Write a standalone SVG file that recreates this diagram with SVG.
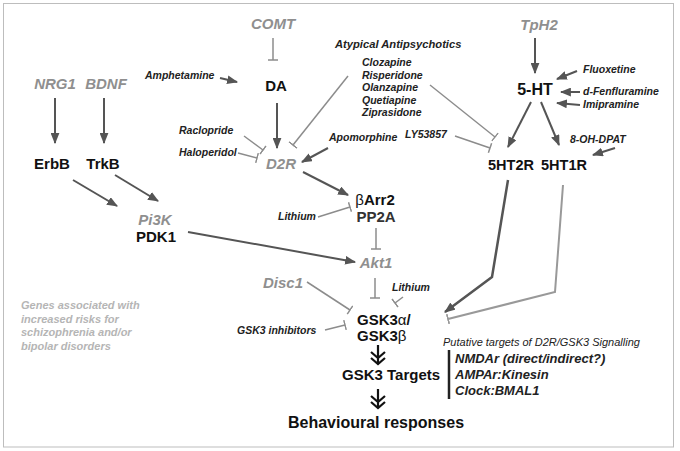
<svg xmlns="http://www.w3.org/2000/svg" width="680" height="451" viewBox="0 0 680 451">
<style>
text{font-family:"Liberation Sans",Arial,sans-serif;}
.node{font-size:15px;font-weight:bold;fill:#111;}
.gene{font-size:15px;font-weight:bold;font-style:italic;fill:#8f8f8f;}
.drug{font-size:10.5px;font-weight:bold;font-style:italic;fill:#222;}
.tgt{font-size:13px;font-weight:bold;font-style:italic;fill:#222;}
.note{font-size:11px;font-weight:bold;font-style:italic;fill:#b5b5b5;}
.act{fill:none;stroke:#555;stroke-width:2;marker-end:url(#arr);}
.inh{fill:none;stroke:#8c8c8c;stroke-width:1.5;marker-end:url(#tbar);}
.chev{fill:none;stroke:#111;stroke-width:2.2;}
.thin{font-weight:normal;}
</style>
<defs>
<marker id="arr" viewBox="0 0 10 8" markerWidth="11" markerHeight="9" refX="9" refY="4" orient="auto" markerUnits="userSpaceOnUse">
<path d="M0,0 L10,4 L0,8 z" fill="#555"/>
</marker>
<marker id="tbar" viewBox="-1 -6 2 12" markerWidth="2" markerHeight="12" refX="0" refY="0" orient="auto" markerUnits="userSpaceOnUse">
<path d="M0,-5 V5" stroke="#8c8c8c" stroke-width="1.5"/>
</marker>
<marker id="tbar2" viewBox="-1 -6 2 12" markerWidth="2" markerHeight="12" refX="0" refY="0" orient="auto" markerUnits="userSpaceOnUse">
<path d="M0,-5 V5" stroke="#999" stroke-width="1.8"/>
</marker>
<g id="dbl">
<path d="M0,0 V19 M-7,7 L0,13 L7,7 M-7,13 L0,19 L7,13" class="chev"/>
</g>
</defs>
<rect x="3.5" y="3.5" width="670" height="443.5" fill="#fff" stroke="#bdbdbd" stroke-width="1"/>

<g id="connectors">
<path class="act" d="M535,38 L535,73"/>
<path class="act" d="M220,78 L237,82"/>
<path class="act" d="M55,98 L55,143"/>
<path class="act" d="M104,98 L104,143"/>
<path class="act" d="M73,180 L117,206"/>
<path class="act" d="M115,175 L158,201"/>
<path class="act" d="M188,232 L355,262"/>
<path class="act" d="M277,103 L277,148"/>
<path class="act" d="M328,148 L302,162"/>
<path class="act" d="M303,172 L348,195"/>
<path class="act" d="M577,71 L557,79"/>
<path class="act" d="M580,92 L561,92"/>
<path class="act" d="M580,105 L557,103"/>
<path class="act" d="M531,102 L508,147"/>
<path class="act" d="M541,102 L559,145"/>
<path class="act" d="M615,148 L593,155"/>
<path class="act" style="stroke-width:2.5" d="M508,180 L492,277 L445,312"/>

<path class="inh" d="M273,38 L273,60"/>
<path class="inh" d="M244,136 L263,150"/>
<path class="inh" d="M238,153 L257,158"/>
<path class="inh" d="M348,76 L293,145"/>
<path class="inh" d="M430,85 L495,137"/>
<path class="inh" d="M455,136 L490,148"/>
<path class="inh" d="M318,217 L350,207"/>
<path class="inh" d="M376,228 L376,249"/>
<path class="inh" d="M375,278 L375,298"/>
<path class="inh" d="M403,297 L395,303"/>
<path class="inh" d="M307,282 L350,310"/>
<path class="inh" d="M325,330 L345,325"/>
<path class="inh" style="stroke:#999;stroke-width:2;marker-end:url(#tbar2)" d="M563,185 L555,292 L448,319"/>

<use href="#dbl" x="378" y="345"/>
<use href="#dbl" x="378" y="389"/>
<path d="M449,350 L449,399" stroke="#222" stroke-width="2.5"/>
</g>

<g id="COMT"><text class="gene" x="273" y="29" text-anchor="middle">COMT</text></g>
<g id="TpH2"><text class="gene" x="539" y="30" text-anchor="middle">TpH2</text></g>
<g id="NRG1"><text class="gene" x="55" y="89" text-anchor="middle">NRG1</text></g>
<g id="BDNF"><text class="gene" x="106" y="89" text-anchor="middle">BDNF</text></g>
<g id="ErbB"><text class="node" x="52" y="169" text-anchor="middle">ErbB</text></g>
<g id="TrkB"><text class="node" x="103" y="169" text-anchor="middle">TrkB</text></g>
<g id="Pi3K"><text class="gene" x="155" y="225" text-anchor="middle">Pi3K</text></g>
<g id="PDK1"><text class="node" x="156" y="242" text-anchor="middle">PDK1</text></g>
<g id="DA"><text class="node" x="276" y="91" text-anchor="middle">DA</text></g>
<g id="D2R"><text class="gene" x="281" y="169" text-anchor="middle">D2R</text></g>
<g id="bArr2"><text class="node" x="375" y="205" text-anchor="middle"><tspan class="thin">β</tspan>Arr2</text>
<text class="node" x="376" y="222" text-anchor="middle" style="fill:#333">PP2A</text></g>
<g id="Akt1"><text class="gene" x="376" y="268" text-anchor="middle">Akt1</text></g>
<g id="Disc1"><text class="gene" x="283" y="288" text-anchor="middle">Disc1</text></g>
<g id="GSK3"><text class="node" x="357" y="325">GSK3<tspan class="thin">α</tspan>/</text>
<text class="node" x="357" y="341">GSK3<tspan class="thin">β</tspan></text></g>
<g id="GSK3Targets"><text class="node" x="342" y="380">GSK3 Targets</text></g>
<g id="Behaviour"><text class="node" x="376" y="428" text-anchor="middle" style="font-size:16px">Behavioural responses</text></g>
<g id="5HT"><text class="node" x="535" y="95" text-anchor="middle" style="font-size:16px">5-HT</text></g>
<g id="5HT2R"><text class="node" x="511" y="170" text-anchor="middle" style="font-size:14.5px">5HT2R</text></g>
<g id="5HT1R"><text class="node" x="564" y="170" text-anchor="middle" style="font-size:14.5px">5HT1R</text></g>

<g id="drugs">
<text class="drug" x="145" y="79">Amphetamine</text>
<text class="drug" x="179" y="134">Raclopride</text>
<text class="drug" x="179" y="156">Haloperidol</text>
<text class="drug" x="329" y="141">Apomorphine</text>
<text class="drug" x="278" y="220">Lithium</text>
<text class="drug" x="392" y="291">Lithium</text>
<text class="drug" x="237" y="334">GSK3 inhibitors</text>
<text class="drug" x="405" y="138">LY53857</text>
<text class="drug" x="583" y="73">Fluoxetine</text>
<text class="drug" x="583" y="95">d-Fenfluramine</text>
<text class="drug" x="583" y="108">Imipramine</text>
<text class="drug" x="570" y="143">8-OH-DPAT</text>
<text class="drug" x="335" y="48" style="font-size:11.2px">Atypical Antipsychotics</text>
<text class="drug" x="362" y="66">Clozapine</text>
<text class="drug" x="362" y="78.5">Risperidone</text>
<text class="drug" x="362" y="91">Olanzapine</text>
<text class="drug" x="362" y="103.5">Quetiapine</text>
<text class="drug" x="362" y="116">Ziprasidone</text>
</g>

<g id="targets">
<text x="443" y="346" style="font-size:11px;font-style:italic;fill:#222">Putative targets of D2R/GSK3 Signalling</text>
<text class="tgt" x="455" y="363">NMDAr (direct/indirect?)</text>
<text class="tgt" x="455" y="379">AMPAr:Kinesin</text>
<text class="tgt" x="455" y="395">Clock:BMAL1</text>
</g>

<g id="legend">
<text class="note" x="21" y="309">Genes associated with</text>
<text class="note" x="21" y="323">increased risks for</text>
<text class="note" x="21" y="336">schizophrenia and/or</text>
<text class="note" x="21" y="350">bipolar disorders</text>
</g>
</svg>
